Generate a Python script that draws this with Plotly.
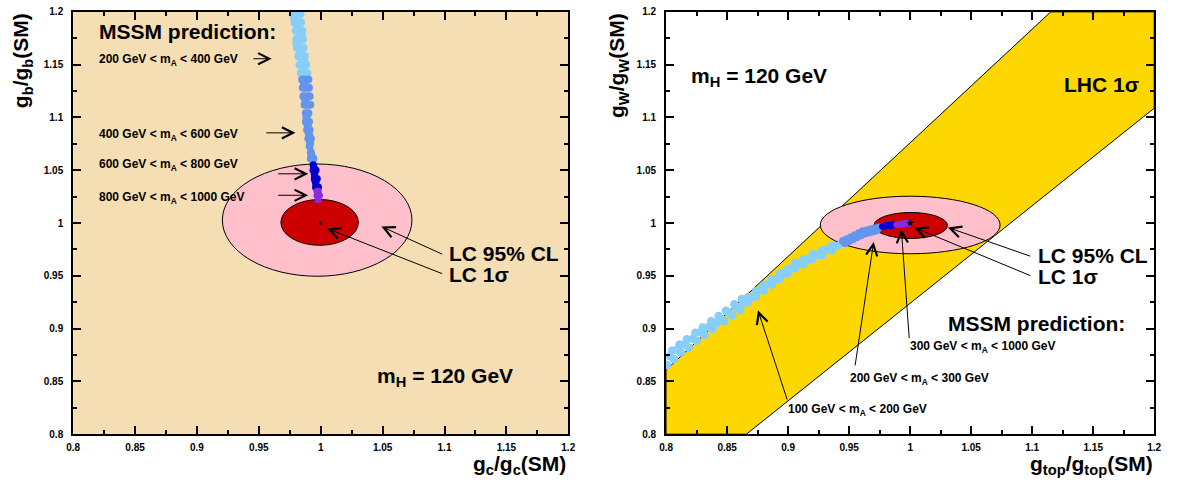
import plotly.graph_objects as go

FONT = "Liberation Sans"

# ---------------- axis ticks ----------------
tick_vals = [0.8, 0.85, 0.9, 0.95, 1.0, 1.05, 1.1, 1.15, 1.2]
tick_text = ["0.8", "0.85", "0.9", "0.95", "1", "1.05", "1.1", "1.15", "1.2"]

# ---------------- left panel: g_c vs g_b ----------------
# MSSM prediction, 200 < mA < 400 GeV
l_lb_x = [0.9785, 0.981, 0.9835, 0.979, 0.9815, 0.984, 0.980, 0.9825, 0.985, 0.9805, 0.983, 0.9855,
          0.981, 0.9835, 0.986, 0.982, 0.9845, 0.987, 0.983, 0.9855, 0.988, 0.984, 0.9865, 0.989,
          0.9785, 0.9815, 0.9845, 0.9805, 0.9835, 0.9865]
l_lb_y = [1.198, 1.198, 1.198, 1.190, 1.190, 1.190, 1.182, 1.182, 1.182, 1.174, 1.174, 1.174,
          1.166, 1.166, 1.166, 1.158, 1.158, 1.158, 1.150, 1.150, 1.150, 1.142, 1.142, 1.142,
          1.194, 1.186, 1.178, 1.170, 1.162, 1.154]
# 400 < mA < 600 GeV
l_cf_x = [0.985, 0.9875, 0.990, 0.9855, 0.988, 0.9905, 0.986, 0.9885, 0.991, 0.987, 0.9895, 0.9915,
          0.988, 0.990, 0.988, 0.9905, 0.989, 0.991, 0.990, 0.992, 0.991, 0.992, 0.992, 0.994,
          0.9865, 0.9875, 0.9885, 0.9895, 0.9905, 0.9915, 0.9925]
l_cf_y = [1.136, 1.136, 1.136, 1.128, 1.128, 1.128, 1.120, 1.120, 1.120, 1.112, 1.112, 1.112,
          1.104, 1.104, 1.096, 1.096, 1.088, 1.088, 1.080, 1.080, 1.073, 1.067, 1.061, 1.061,
          1.132, 1.116, 1.100, 1.092, 1.084, 1.076, 1.064]
# 600 < mA < 800 GeV
l_bl_x = [0.994, 0.994, 0.996, 0.995, 0.995, 0.997, 0.996, 0.996, 0.998, 0.9945, 0.9955]
l_bl_y = [1.055, 1.050, 1.050, 1.046, 1.042, 1.042, 1.038, 1.034, 1.034, 1.052, 1.040]
# 800 < mA < 1000 GeV
l_pu_x = [0.997, 0.998, 0.997, 0.999, 0.998]
l_pu_y = [1.030, 1.030, 1.026, 1.026, 1.022]
# LC ellipses (x0, x1, y0, y1)
l_cl95 = [0.9205, 1.0737, 0.9496, 1.0559]
l_sig1 = [0.9678, 1.0304, 0.9789, 1.0223]

# ---------------- right panel: g_top vs g_W ----------------
# LHC 1 sigma band polygon
lhc_x = [0.8, 1.1152, 1.2, 1.2, 0.8658, 0.8]
lhc_y = [0.8608, 1.2, 1.2, 1.1088, 0.8, 0.8]
# MSSM prediction, 100 < mA < 200 GeV
r_lb_x = [0.8008, 0.8032, 0.8065, 0.8089, 0.8122, 0.8154, 0.8186, 0.8219, 0.8251, 0.8284,
          0.8316, 0.8348, 0.8381, 0.8413, 0.8446, 0.8478, 0.8510, 0.8543, 0.8575, 0.8608,
          0.8640, 0.8672, 0.8672, 0.8705, 0.8737, 0.8737, 0.8770, 0.8802, 0.8802, 0.8834,
          0.8867, 0.8867, 0.8899, 0.8932, 0.8932, 0.8964, 0.8996, 0.8996, 0.9029, 0.9061,
          0.9061, 0.9094, 0.9126, 0.9126, 0.9158, 0.9199, 0.9199, 0.9239, 0.9280, 0.9280,
          0.9320, 0.9361, 0.9361, 0.9401, 0.9442,
          0.8050, 0.8110, 0.8170, 0.8240, 0.8300, 0.8370, 0.8430, 0.8490, 0.8560, 0.8620]
r_lb_y = [0.8655, 0.8738, 0.8711, 0.8803, 0.8775, 0.8849, 0.8822, 0.8905, 0.8886, 0.8969,
          0.8942, 0.9015, 0.8997, 0.9052, 0.9099, 0.9071, 0.9154, 0.9126, 0.9200, 0.9173,
          0.9246, 0.9300, 0.9250, 0.9302, 0.9355, 0.9305, 0.9367, 0.9410, 0.9360, 0.9422,
          0.9466, 0.9416, 0.9468, 0.9521, 0.9471, 0.9524, 0.9567, 0.9517, 0.9570, 0.9623,
          0.9573, 0.9616, 0.9660, 0.9610, 0.9653, 0.9706, 0.9656, 0.9700, 0.9743, 0.9693,
          0.9746, 0.9789, 0.9739, 0.9782, 0.9810,
          0.8790, 0.8850, 0.8900, 0.8960, 0.9010, 0.9070, 0.9120, 0.9170, 0.9230, 0.9280]
# 200 < mA < 300 GeV
r_cf_x = [0.9450, 0.9482, 0.9515, 0.9547, 0.9580, 0.9612, 0.9644, 0.9677, 0.9709, 0.9742,
          0.9466, 0.9499, 0.9531, 0.9563, 0.9596, 0.9628, 0.9660, 0.9693, 0.9725]
r_cf_y = [0.9829, 0.9847, 0.9866, 0.9884, 0.9903, 0.9921, 0.9930, 0.9940, 0.9949, 0.9958,
          0.9812, 0.9830, 0.9848, 0.9866, 0.9885, 0.9900, 0.9910, 0.9920, 0.9930]
# 300 < mA < 1000 GeV (blue and purple parts)
r_bl_x = [0.9774, 0.9790, 0.9806, 0.9822, 0.9839, 0.9855, 0.9871]
r_bl_y = [0.9967, 0.9972, 0.9976, 0.9976, 0.9976, 0.9981, 0.9986]
r_pu_x = [0.9890, 0.9904, 0.9920, 0.9936, 0.9952, 0.9968, 0.9984]
r_pu_y = [0.9986, 0.9986, 0.9988, 0.9990, 0.9993, 0.9995, 0.9995]
r_cl95 = [0.9264, 1.0737, 0.9709, 1.0254]
r_sig1 = [0.9703, 1.0306, 0.9854, 1.0100]

# colours
C_LB, C_CF, C_BL, C_PU = "#87CEFA", "#6495ED", "#0000CD", "#8A2BE2"
C_PINK, C_RED, C_WHEAT, C_GOLD = "#FFC0CB", "#CC0000", "#F5DEB3", "#FFD700"

fig = go.Figure()


def dots(x, y, color, size, xa, ya):
    fig.add_trace(go.Scatter(x=x, y=y, mode="markers", xaxis=xa, yaxis=ya,
                             marker=dict(color=color, size=size, line=dict(width=0)),
                             showlegend=False, hoverinfo="skip"))


dots(l_lb_x, l_lb_y, C_LB, 8.5, "x", "y")
dots(l_cf_x, l_cf_y, C_CF, 8, "x", "y")
dots(l_bl_x, l_bl_y, C_BL, 7.5, "x", "y")
dots(l_pu_x, l_pu_y, C_PU, 7, "x", "y")
fig.add_trace(go.Scatter(x=[1.0], y=[1.0], mode="markers", marker=dict(color="black", size=3),
                         showlegend=False, hoverinfo="skip"))

dots(r_lb_x, r_lb_y, C_LB, 8.5, "x2", "y2")
dots(r_cf_x, r_cf_y, C_CF, 8, "x2", "y2")
dots(r_bl_x, r_bl_y, C_BL, 7, "x2", "y2")
dots(r_pu_x, r_pu_y, C_PU, 7, "x2", "y2")
fig.add_trace(go.Scatter(x=[1.0], y=[1.0], mode="markers", xaxis="x2", yaxis="y2",
                         marker=dict(color="black", size=6, symbol="star"),
                         showlegend=False, hoverinfo="skip"))

shapes = []
# wheat background for left panel
shapes.append(dict(type="rect", xref="x domain", yref="y domain", x0=0, x1=1, y0=0, y1=1,
                   fillcolor=C_WHEAT, line=dict(width=0), layer="below"))
# LHC band
path = "M " + " L ".join(f"{a},{b}" for a, b in zip(lhc_x, lhc_y)) + " Z"
shapes.append(dict(type="path", xref="x2", yref="y2", path=path, fillcolor=C_GOLD,
                   line=dict(color="black", width=1), layer="below"))
for (xr, yr, e95, e1) in [("x", "y", l_cl95, l_sig1), ("x2", "y2", r_cl95, r_sig1)]:
    shapes.append(dict(type="circle", xref=xr, yref=yr, x0=e95[0], x1=e95[1], y0=e95[2], y1=e95[3],
                       fillcolor=C_PINK, line=dict(color="black", width=1), layer="below"))
    shapes.append(dict(type="circle", xref=xr, yref=yr, x0=e1[0], x1=e1[1], y0=e1[2], y1=e1[3],
                       fillcolor=C_RED, line=dict(color="black", width=1), layer="below"))

ann = []


def text(xr, yr, x, y, s, size, anchor="left"):
    ann.append(dict(xref=xr, yref=yr, x=x, y=y, text=s, showarrow=False, xanchor=anchor,
                    yanchor="middle", borderpad=0,
                    font=dict(family=FONT, size=size, color="black", weight="bold")))


def arrow(xr, yr, tail, head):
    ann.append(dict(xref=xr, yref=yr, axref=xr, ayref=yr, x=head[0], y=head[1], ax=tail[0], ay=tail[1],
                    text="", showarrow=True, arrowhead=5, arrowsize=2.2, arrowwidth=1, arrowcolor="black",
                    standoff=0))


# left panel texts
text("x", "y", 0.8200, 1.1815, "MSSM prediction:", 21)
text("x", "y", 0.8200, 1.1547, "200 GeV &lt; m<sub>A</sub> &lt; 400 GeV", 12)
text("x", "y", 0.8200, 1.0836, "400 GeV &lt; m<sub>A</sub> &lt; 600 GeV", 12)
text("x", "y", 0.8200, 1.0550, "600 GeV &lt; m<sub>A</sub> &lt; 800 GeV", 12)
text("x", "y", 0.8200, 1.0235, "800 GeV &lt; m<sub>A</sub> &lt; 1000 GeV", 12)
text("x", "y", 1.1030, 0.9709, "LC 95% CL", 21)
text("x", "y", 1.1030, 0.9515, "LC 1σ", 21)
text("x", "y", 1.0450, 0.8545, "m<sub>H</sub> = 120 GeV", 21)
arrow("x", "y", (0.9444, 1.1556), (0.9604, 1.1556))
arrow("x", "y", (0.9548, 1.0854), (0.9796, 1.0854))
arrow("x", "y", (0.9644, 1.0466), (0.9899, 1.0466))
arrow("x", "y", (0.9644, 1.0263), (0.9899, 1.0263))
arrow("x", "y", (1.0993, 0.9699), (1.0490, 0.9967))
arrow("x", "y", (1.0993, 0.9515), (1.0051, 0.9949))

# right panel texts
text("x2", "y2", 0.8195, 1.1380, "m<sub>H</sub> = 120 GeV", 21)
text("x2", "y2", 1.1255, 1.1310, "LHC 1σ", 21)
text("x2", "y2", 1.1040, 0.9690, "LC 95% CL", 21)
text("x2", "y2", 1.1040, 0.9496, "LC 1σ", 21)
text("x2", "y2", 1.0300, 0.9053, "MSSM prediction:", 21)
text("x2", "y2", 0.9990, 0.8822, "300 GeV &lt; m<sub>A</sub> &lt; 1000 GeV", 12)
text("x2", "y2", 0.9495, 0.8526, "200 GeV &lt; m<sub>A</sub> &lt; 300 GeV", 12)
text("x2", "y2", 0.8990, 0.8230, "100 GeV &lt; m<sub>A</sub> &lt; 200 GeV", 12)
arrow("x2", "y2", (1.0997, 0.9681), (1.0309, 0.9958))
arrow("x2", "y2", (1.0997, 0.9496), (1.0033, 0.9958))
arrow("x2", "y2", (0.9993, 0.8895), (0.9928, 0.9940))
arrow("x2", "y2", (0.9547, 0.8637), (0.9701, 0.9820))
arrow("x2", "y2", (0.8996, 0.8314), (0.8753, 0.9173))

# axis titles
W, H = 1181, 488
title_font = dict(family=FONT, size=21, color="black", weight="bold")
ann.append(dict(xref="paper", yref="paper", x=16 / W, y=1 - 5 / H, xanchor="center", yanchor="top",
                textangle=-90, showarrow=False, text="g<sub>b</sub>/g<sub>b</sub>(SM)", font=title_font))
ann.append(dict(xref="paper", yref="paper", x=568 / W, y=1 - 471 / H, xanchor="right", yanchor="middle",
                showarrow=False, text="g<sub>c</sub>/g<sub>c</sub>(SM)", font=title_font))
ann.append(dict(xref="paper", yref="paper", x=619 / W, y=1 - 5 / H, xanchor="center", yanchor="top",
                textangle=-90, showarrow=False, text="g<sub>W</sub>/g<sub>W</sub>(SM)", font=title_font))
ann.append(dict(xref="paper", yref="paper", x=1162 / W, y=1 - 471 / H, xanchor="right", yanchor="middle",
                showarrow=False, text="g<sub>top</sub>/g<sub>top</sub>(SM)", font=title_font))

axis_common = dict(range=[0.8, 1.2], tickvals=tick_vals, ticktext=tick_text, ticks="inside", ticklen=8,
                   tickwidth=1.5, tickcolor="black", showline=True, linecolor="black", linewidth=2,
                   mirror="allticks", showgrid=False, zeroline=False, ticklabeloverflow="allow",
                   tickfont=dict(family=FONT, size=10, color="black", weight="bold"),
                   minor=dict(ticks="inside", ticklen=4, tickwidth=1.5, tickcolor="black",
                              tick0=0.8, dtick=0.025, showgrid=False))

ydom = [1 - 439 / H, 1 - 6 / H]
fig.update_layout(
    width=W, height=H, margin=dict(l=0, r=0, t=0, b=0),
    paper_bgcolor="white", plot_bgcolor="white", showlegend=False,
    xaxis=dict(domain=[67 / W, 568 / W], anchor="y", ticklabelstandoff=3, **axis_common),
    yaxis=dict(domain=ydom, anchor="x", ticklabelstandoff=6, **axis_common),
    xaxis2=dict(domain=[667 / W, 1161 / W], anchor="y2", ticklabelstandoff=3, **axis_common),
    yaxis2=dict(domain=ydom, anchor="x2", ticklabelstandoff=6, **axis_common),
    shapes=shapes, annotations=ann,
)

fig.write_html("out.html")
